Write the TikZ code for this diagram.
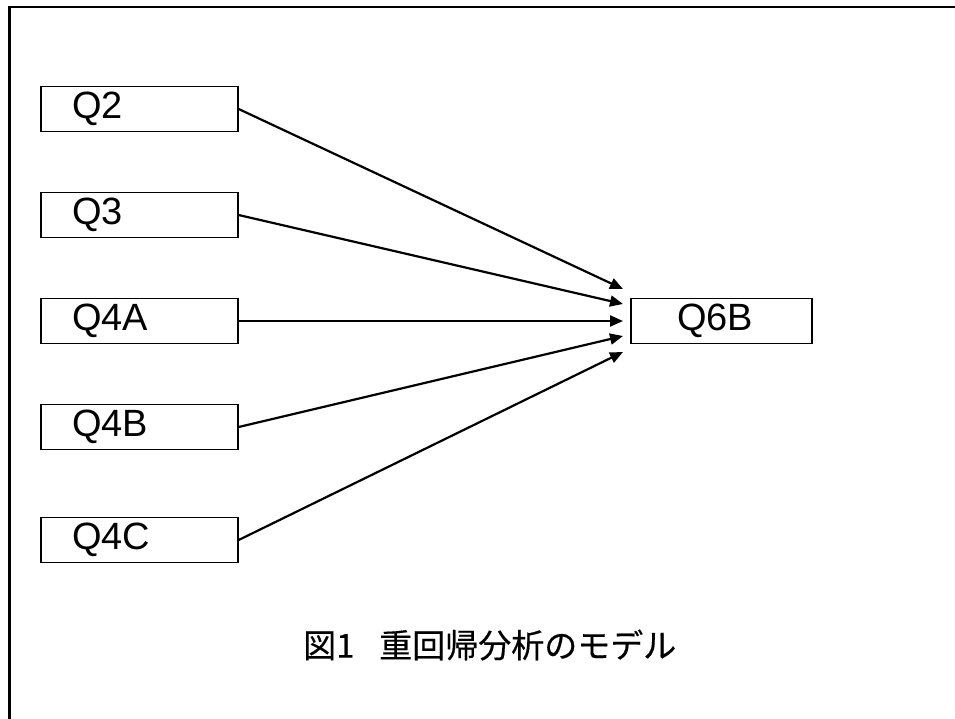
\documentclass[tikz,border=0pt]{standalone}
\usepackage{fontspec}
\setmainfont{Liberation Sans}
\newfontfamily\cjk[FakeBold=0.4]{Noto Sans CJK JP}
\usetikzlibrary{arrows.meta}
\begin{document}
\begin{tikzpicture}[x=1pt,y=-1pt,
  qbox/.style={draw, line width=1.3pt, minimum height=45pt, inner ysep=0pt,
    inner xsep=31pt, text width=135pt, align=left,
    font=\fontsize{38}{40}\selectfont},
  tbox/.style={qbox, inner xsep=46pt, text width=89pt},
  link/.style={line width=2.2pt, -{Triangle[length=13pt,width=11pt]}},
  frame/.style={line width=2.6pt}
]
\useasboundingbox (0,0) rectangle (955,718);
\draw[frame] (9.5,730) -- (9.5,7) -- (970,7);
\node[qbox] (q2)  at (139.5,109) {Q2};
\node[qbox] (q3)  at (139.5,215) {Q3};
\node[qbox] (q4a) at (139.5,321) {Q4A};
\node[qbox] (q4b) at (139.5,427) {Q4B};
\node[qbox] (q4c) at (139.5,540) {Q4C};
\node[tbox] (q6b) at (721.5,321) {Q6B};
\coordinate (t1) at (623,289);
\coordinate (t2) at (623,304);
\coordinate (t3) at (623,321);
\coordinate (t4) at (623,336);
\coordinate (t5) at (623,352);
\draw[link] (q2.east) -- (t1);
\draw[link] (q3.east) -- (t2);
\draw[link] (q4a.east) -- (t3);
\draw[link] (q4b.east) -- (t4);
\draw[link] (q4c.east) -- (t5);
\node[font=\cjk\fontsize{33}{36}\selectfont, anchor=west, inner sep=0pt] (cap) at (303,645) {図1\hspace{0.75em}重回帰分析のモデル};
\end{tikzpicture}
\end{document}
